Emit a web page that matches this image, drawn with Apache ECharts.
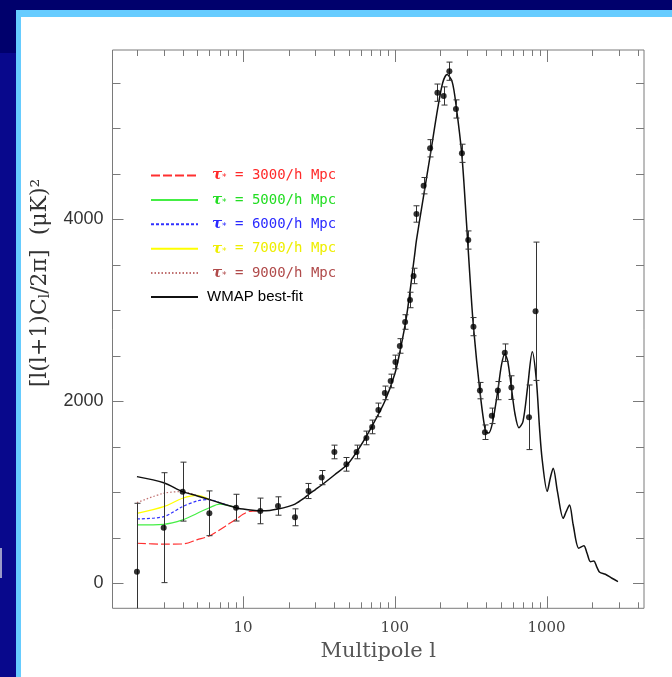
<!DOCTYPE html>
<html>
<head>
<meta charset="utf-8">
<script src="https://cdn.jsdelivr.net/npm/echarts@6/dist/echarts.min.js"></script>
<style>
html,body{margin:0;padding:0;}
body{width:672px;height:677px;position:relative;overflow:hidden;background:linear-gradient(#00006c 0px,#00006c 53px,#08088c 53px,#08088c 677px);}
#blueframe{position:absolute;left:16px;top:10px;right:0;bottom:0;background:#66ccff;}
#panel{position:absolute;left:21px;top:17px;right:0;bottom:0;background:#ffffff;}
#mark{position:absolute;left:0;top:548px;width:2px;height:30px;background:#9a9ac8;}
#chart{position:absolute;left:0;top:0;width:672px;height:677px;}
</style>
</head>
<body>
<div id="blueframe"></div>
<div id="panel"></div>
<div id="mark"></div>
<div id="chart"></div>
<script>
// ---------- data ----------
// binned measurements: multipole, value (uK^2), half error bar
const dataL   = [2, 3, 4, 6, 9, 13, 17, 22, 27, 33, 40, 48, 56, 65, 71, 78, 86, 94, 101, 108, 117, 126, 133, 139, 155, 171, 191, 210, 229, 253, 277, 305, 330, 364, 393, 436, 478, 531, 587, 767, 847];
const dataV   = [128, 611, 1007, 769, 831, 795, 849, 725, 1014, 1161, 1443, 1307, 1443, 1597, 1718, 1905, 2092, 2223, 2432, 2608, 2871, 3113, 3377, 4058, 4369, 4780, 5391, 5355, 5627, 5212, 4725, 3772, 2820, 2117, 1660, 1840, 2117, 2534, 2150, 1824, 2989];
const dataErr = [751, 604, 324, 246, 147, 141, 101, 93, 83, 78, 75, 75, 75, 75, 75, 75, 75, 75, 75, 80, 80, 85, 85, 90, 90, 95, 95, 100, 100, 100, 100, 100, 100, 90, 80, 85, 100, 96, 130, 355, 760];

// WMAP best-fit model curve
const wmapL = [2, 3, 4, 5, 6, 7, 8, 9, 10, 12, 13, 15, 17, 20, 22, 25, 27, 30, 33, 40, 49, 59, 71, 86, 100, 108, 120, 135, 139, 155, 172, 192, 207, 221, 239, 254, 277, 297, 312, 330, 364, 396, 415, 440, 478, 505, 531, 555, 587, 620, 658, 700, 750, 806, 857, 900, 937, 1011, 1060, 1107, 1180, 1288, 1350, 1418, 1500, 1633, 1761, 1850, 1948, 2048, 2150, 2242, 2443, 2700, 2958];
const wmapV = [1172, 1105, 1007, 960, 920, 885, 855, 831, 815, 800, 797, 800, 815, 845, 870, 930, 975, 1030, 1080, 1190, 1310, 1500, 1730, 2000, 2300, 2540, 2950, 3600, 3770, 4260, 4720, 5220, 5500, 5590, 5510, 5240, 4700, 3960, 3400, 2820, 2110, 1670, 1650, 1760, 2120, 2400, 2520, 2440, 2150, 1860, 1710, 1780, 2150, 2545, 2235, 1700, 1355, 1010, 1160, 1264, 1010, 714, 790, 860, 640, 385, 413, 330, 237, 245, 175, 121, 99, 55, 18];

// truncated-spectrum models (low multipoles, merging into best fit)
const t3000L = [2, 3, 4, 5, 6, 7, 8, 9, 10, 11, 13];
const t3000V = [440, 430, 432, 480, 520, 586, 648, 703, 758, 790, 797];
const t5000L = [2, 3, 4, 5, 6, 7, 8, 9];
const t5000V = [641, 648, 696, 770, 830, 870, 855, 831];
const t6000L = [2, 3, 4, 5, 6, 7, 8];
const t6000V = [707, 732, 842, 905, 920, 885, 855];
const t7000L = [2, 3, 4, 5, 6];
const t7000V = [769, 842, 934, 965, 920];
const t9000L = [2, 3, 4, 5];
const t9000V = [886, 989, 1007, 960];

// axis ranges and ticks
const X_MIN = 1.38, X_MAX = 4390;
const Y_MIN = -275, Y_MAX = 5860;
const xMajorTicks = [10, 100, 1000];
const xMinorTicks = [2, 3, 4, 5, 6, 7, 8, 9, 20, 30, 40, 50, 60, 70, 80, 90, 200, 300, 400, 500, 600, 700, 800, 900, 2000, 3000, 4000];
const yMajorTicks = [0, 2000, 4000];
const yMinorTicks = [500, 1000, 1500, 2500, 3000, 3500, 4500, 5000, 5500];
const yLabelValues = [0, 2000, 4000];
const xLabelValues = [10, 100, 1000];

const modelNames = ['τ* = 3000/h Mpc', 'τ* = 5000/h Mpc', 'τ* = 6000/h Mpc', 'τ* = 7000/h Mpc', 'τ* = 9000/h Mpc', 'WMAP best-fit'];

// ---------- chart ----------
const zip = (a, b) => a.map((x, i) => [x, b[i]]);
const AXIS_COLOR = '#7a7a7a';

function xTickRender(params, api) {
  const l = api.value(0), major = api.value(2);
  const len = major ? 12 : 6;
  const b = api.coord([l, Y_MIN]);
  const t = api.coord([l, Y_MAX]);
  const x = Math.round(b[0]) + 0.5;
  return {type: 'group', children: [
    {type: 'line', shape: {x1: x, y1: b[1], x2: x, y2: b[1] - len}, style: {stroke: AXIS_COLOR, lineWidth: 1}},
    {type: 'line', shape: {x1: x, y1: t[1], x2: x, y2: t[1] + len}, style: {stroke: AXIS_COLOR, lineWidth: 1}}
  ]};
}
function yTickRender(params, api) {
  const v = api.value(1), major = api.value(2);
  const len = major ? 11 : 8;
  const l = api.coord([X_MIN, v]);
  const r = api.coord([X_MAX, v]);
  const y = Math.round(l[1]) + 0.5;
  return {type: 'group', children: [
    {type: 'line', shape: {x1: l[0], y1: y, x2: l[0] + len, y2: y}, style: {stroke: AXIS_COLOR, lineWidth: 1}},
    {type: 'line', shape: {x1: r[0], y1: y, x2: r[0] - len, y2: y}, style: {stroke: AXIS_COLOR, lineWidth: 1}}
  ]};
}
function errRender(params, api) {
  const l = api.value(0);
  const loRaw = api.value(1), hiRaw = api.value(2);
  const lo = Math.max(loRaw, Y_MIN), hi = Math.min(hiRaw, Y_MAX);
  const p1 = api.coord([l, lo]);
  const p2 = api.coord([l, hi]);
  const x = Math.round(p1[0]) + 0.5;
  const st = {stroke: '#333', lineWidth: 1};
  const ch = [{type: 'line', shape: {x1: x, y1: p1[1], x2: x, y2: p2[1]}, style: st}];
  if (loRaw >= Y_MIN) ch.push({type: 'line', shape: {x1: x - 3, y1: p1[1], x2: x + 3, y2: p1[1]}, style: st});
  if (hiRaw <= Y_MAX) ch.push({type: 'line', shape: {x1: x - 3, y1: p2[1], x2: x + 3, y2: p2[1]}, style: st});
  return {type: 'group', children: ch};
}

const legendColors = ['#ff2a2a', '#22dd22', '#2a2aff', '#eeee00', '#b04a4a', '#000000'];
const lineColors   = ['#ff3030', '#44ee44', '#3030ff', '#ffff00', '#c07070', '#111111'];
const lineTypes    = [[9, 3], 'solid', [3, 2], 'solid', [1.5, 2], 'solid'];
const lineData = [zip(t3000L, t3000V), zip(t5000L, t5000V), zip(t6000L, t6000V), zip(t7000L, t7000V), zip(t9000L, t9000V), zip(wmapL, wmapV)];

const lineSeries = modelNames.map((name, i) => ({
  name: name,
  type: 'line',
  data: lineData[i],
  smooth: 0.3,
  symbol: 'none',
  showSymbol: false,
  z: i === 5 ? 4 : 3,
  lineStyle: {color: lineColors[i], width: i === 5 ? 1.5 : 1.2, type: lineTypes[i]},
  itemStyle: {color: lineColors[i]},
  animation: false
}));

const chart = echarts.init(document.getElementById('chart'), null, {renderer: 'canvas'});
chart.setOption({
  animation: false,
  backgroundColor: 'transparent',
  grid: {left: 112.5, right: 28, top: 50, bottom: 68.7, show: true, borderColor: AXIS_COLOR, borderWidth: 1, backgroundColor: 'transparent'},
  xAxis: {
    type: 'log', logBase: 10, min: X_MIN, max: X_MAX,
    axisLine: {show: false}, axisTick: {show: false}, splitLine: {show: false},
    axisLabel: {
      margin: 12, color: '#444', fontFamily: 'DejaVu Serif', fontSize: 15,
      showMinLabel: false, showMaxLabel: false,
      formatter: v => xLabelValues.some(t => Math.abs(t - v) / t < 1e-6) ? String(Math.round(v)) : ''
    },
    name: 'Multipole l', nameLocation: 'middle', nameGap: 33,
    nameTextStyle: {fontFamily: 'DejaVu Serif', fontSize: 21, color: '#555'}
  },
  yAxis: {
    type: 'value', min: Y_MIN, max: Y_MAX,
    axisLine: {show: false}, axisTick: {show: false}, splitLine: {show: false},
    axisLabel: {
      margin: 9, color: '#333', fontFamily: 'Liberation Sans', fontSize: 18,
      showMinLabel: false, showMaxLabel: false,
      formatter: v => yLabelValues.includes(v) ? String(v) : ''
    }
  },
  legend: {
    show: true, orient: 'vertical', left: 150, top: 167.5,
    itemWidth: 47, itemHeight: 14, itemGap: 8.9, padding: 0,
    itemStyle: {opacity: 0},
    data: modelNames.map((n, i) => ({name: n, textStyle: {color: legendColors[i]}})),
    formatter: function (name) {
      if (name.indexOf('τ*') === 0) return '{tau|τ}{sub|*}{txt|' + name.slice(2) + '}';
      return '{wm|' + name + '}';
    },
    textStyle: {
      rich: {
        tau: {fontFamily: 'DejaVu Serif', fontStyle: 'italic', fontWeight: 'bold', fontSize: 15, lineHeight: 14, padding: [0, 0, 0, 9]},
        sub: {fontFamily: 'DejaVu Sans', fontSize: 9, lineHeight: 14, verticalAlign: 'bottom', padding: [6, 0, 0, 0]},
        txt: {fontFamily: 'DejaVu Sans Mono', fontSize: 14, lineHeight: 14},
        wm: {fontFamily: 'Liberation Sans', fontSize: 15, lineHeight: 14, padding: [0, 0, 0, 4], color: '#000'}
      }
    }
  },
  graphic: [{
    type: 'text', x: 40, y: 283, rotation: Math.PI / 2,
    style: {
      text: '[l(l+1)C{sub|l}/2π]  (μK)²',
      font: '22px "DejaVu Serif"', fill: '#333', align: 'center', verticalAlign: 'middle',
      rich: {sub: {fontFamily: 'DejaVu Serif', fontSize: 14, fill: '#333', padding: [10, 0, 0, 0]}}
    }
  }],
  series: [
    {type: 'custom', name: 'xticks', renderItem: xTickRender, silent: true, z: 1,
     data: xMajorTicks.map(l => [l, Y_MIN, 1]).concat(xMinorTicks.map(l => [l, Y_MIN, 0])), encode: {x: 0, y: 1}},
    {type: 'custom', name: 'yticks', renderItem: yTickRender, silent: true, z: 1,
     data: yMajorTicks.map(v => [X_MIN, v, 1]).concat(yMinorTicks.map(v => [X_MIN, v, 0])), encode: {x: 0, y: 1}},
    ...lineSeries,
    {type: 'custom', name: 'errors', renderItem: errRender, silent: true, z: 5,
     data: dataL.map((l, i) => [l, dataV[i] - dataErr[i], dataV[i] + dataErr[i]]), encode: {x: 0, y: [1, 2]}},
    {type: 'scatter', name: 'WMAP data', data: zip(dataL, dataV), symbol: 'circle', symbolSize: 6,
     itemStyle: {color: '#000'}, z: 6, silent: true}
  ]
});
</script>
</body>
</html>
